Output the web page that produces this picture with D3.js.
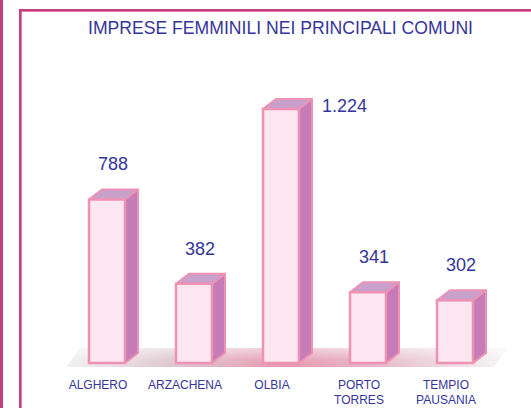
<!DOCTYPE html>
<html>
<head>
<meta charset="utf-8">
<script src="https://cdn.jsdelivr.net/npm/d3@7"></script>
<style>
  body { margin: 0; background: #fff; }
  svg { display: block; font-family: "Liberation Sans", Arial, sans-serif; }
</style>
</head>
<body>
<div id="chart"></div>
<script>
var title = "IMPRESE FEMMINILI NEI PRINCIPALI COMUNI";
var comuni = ["ALGHERO", "ARZACHENA", "OLBIA", "PORTO TORRES", "TEMPIO PAUSANIA"];
var imprese = [788, 382, 1224, 341, 302];
var etichette = ["788", "382", "1.224", "341", "302"];

var width = 531, height = 408;
var depthX = 13, depthY = 10;
var textColor = "#35359a";

var svg = d3.select("#chart").append("svg")
    .attr("width", width)
    .attr("height", height);

var defs = svg.append("defs");

// floor gradient
var floorGrad = defs.append("linearGradient")
    .attr("id", "floorGrad")
    .attr("x1", "0").attr("x2", "1").attr("y1", "0").attr("y2", "0");
floorGrad.append("stop").attr("offset", "0%").attr("stop-color", "#f2f2f2");
floorGrad.append("stop").attr("offset", "25%").attr("stop-color", "#dcc4cc");
floorGrad.append("stop").attr("offset", "50%").attr("stop-color", "#e896b0");
floorGrad.append("stop").attr("offset", "68%").attr("stop-color", "#e4b4c4");
floorGrad.append("stop").attr("offset", "100%").attr("stop-color", "#f6f6f6");

var floorShade = defs.append("linearGradient")
    .attr("id", "floorShade")
    .attr("x1", "0").attr("x2", "0").attr("y1", "0").attr("y2", "1");
floorShade.append("stop").attr("offset", "0%").attr("stop-color", "#fff").attr("stop-opacity", 0.55);
floorShade.append("stop").attr("offset", "60%").attr("stop-color", "#fff").attr("stop-opacity", 0.1);
floorShade.append("stop").attr("offset", "100%").attr("stop-color", "#fff").attr("stop-opacity", 0);

// frame
svg.append("rect").attr("x", 0).attr("y", 0).attr("width", 3).attr("height", height).attr("fill", "#c2407c");
svg.append("path")
    .attr("d", "M20.5," + height + "V10.5H" + width)
    .attr("fill", "none").attr("stroke", "#c2407c").attr("stroke-width", 3);
svg.append("path")
    .attr("d", "M21.5," + height + "V11.5H" + width)
    .attr("fill", "none").attr("stroke", "#e07aa8").attr("stroke-width", 1);

svg.append("text")
    .attr("x", 280.5)
    .attr("y", 34)
    .attr("text-anchor", "middle")
    .attr("font-size", 18)
    .attr("textLength", 385)
    .attr("lengthAdjust", "spacingAndGlyphs")
    .attr("fill", textColor)
    .text(title);

var x = d3.scaleBand()
    .domain(comuni)
    .range([45.5, 516.5])
    .paddingInner(1 - 36 / 87)
    .paddingOuter(0.5);

var y = d3.scaleLinear()
    .domain([0, 1224])
    .range([363, 109]);

// floor
var fx0 = 66, fx1 = 508, fTop = 348, fBot = 367;
var floorPath = "M" + fx0 + "," + fBot + "L" + (fx0 + 14) + "," + fTop + "L" + fx1 + "," + fTop + "L" + (fx1 - 14) + "," + fBot + "Z";
svg.append("path").attr("d", floorPath).attr("fill", "url(#floorGrad)");
svg.append("path").attr("d", floorPath).attr("fill", "url(#floorShade)");

var bars = svg.selectAll("g.bar")
    .data(comuni.map(function(c, i) { return { name: c, value: imprese[i], label: etichette[i] }; }))
    .enter().append("g")
    .attr("class", "bar");

var stroke = "#ee92b4";

// side face
bars.append("path")
    .attr("d", function(d) {
        var x1 = x(d.name) + x.bandwidth(), yt = y(d.value), yb = y(0);
        return "M" + x1 + "," + yt + "L" + (x1 + depthX) + "," + (yt - depthY) +
            "L" + (x1 + depthX) + "," + (yb - depthY) + "L" + x1 + "," + yb + "Z";
    })
    .attr("fill", "#c67cb6")
    .attr("stroke", stroke)
    .attr("stroke-width", 2)
    .attr("stroke-linejoin", "round");

// top face
bars.append("path")
    .attr("d", function(d) {
        var x0 = x(d.name), x1 = x0 + x.bandwidth(), yt = y(d.value);
        return "M" + x0 + "," + yt + "L" + (x0 + depthX) + "," + (yt - depthY) +
            "L" + (x1 + depthX) + "," + (yt - depthY) + "L" + x1 + "," + yt + "Z";
    })
    .attr("fill", "#c8a0cc")
    .attr("stroke", stroke)
    .attr("stroke-width", 2)
    .attr("stroke-linejoin", "round");

// front face
bars.append("rect")
    .attr("x", function(d) { return x(d.name); })
    .attr("y", function(d) { return y(d.value); })
    .attr("width", x.bandwidth())
    .attr("height", function(d) { return y(0) - y(d.value); })
    .attr("fill", "#fce6f0")
    .attr("stroke", stroke)
    .attr("stroke-width", 2.5);

// value labels: above the bar, or beside it when it would hit the title
function besideBar(d) { return y(d.value) - depthY - 19 < 120; }

bars.append("text")
    .attr("x", function(d) {
        if (besideBar(d)) return x(d.name) + x.bandwidth() + depthX + 10;
        return x(d.name) + x.bandwidth() / 2 + 6;
    })
    .attr("y", function(d) {
        if (besideBar(d)) return y(d.value) + 3;
        return y(d.value) - depthY - 19;
    })
    .attr("text-anchor", function(d) { return besideBar(d) ? "start" : "middle"; })
    .attr("font-size", 18)
    .attr("fill", textColor)
    .text(function(d) { return d.label; });

// category labels
var cat = svg.selectAll("text.cat")
    .data(comuni)
    .enter().append("text")
    .attr("class", "cat")
    .attr("x", function(d) { return x(d) + x.bandwidth() / 2 - 9; })
    .attr("y", 389)
    .attr("text-anchor", "middle")
    .attr("font-size", 12)
    .attr("fill", textColor);

cat.selectAll("tspan")
    .data(function(d) { return d.split(" "); })
    .enter().append("tspan")
    .attr("x", function() { return d3.select(this.parentNode).attr("x"); })
    .attr("dy", function(d, i) { return i === 0 ? 0 : 15; })
    .text(function(d) { return d; });
</script>
</body>
</html>
